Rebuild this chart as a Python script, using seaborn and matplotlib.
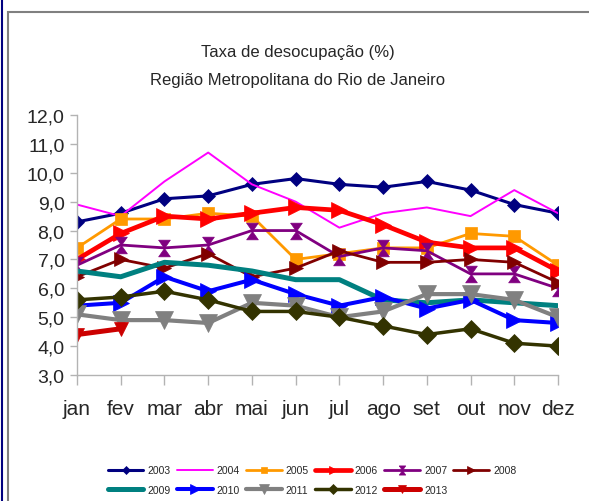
import matplotlib
matplotlib.use("Agg")
import matplotlib.pyplot as plt
from matplotlib.patches import Rectangle
from matplotlib.lines import Line2D
import seaborn as sns

# dados (taxa de desocupacao, %)
months = ["jan", "fev", "mar", "abr", "mai", "jun", "jul", "ago", "set", "out", "nov", "dez"]
years = ["2003", "2004", "2005", "2006", "2007", "2008", "2009", "2010", "2011", "2012", "2013"]

y2003 = [8.3, 8.6, 9.1, 9.2, 9.6, 9.8, 9.6, 9.5, 9.7, 9.4, 8.9, 8.6]
y2004 = [8.9, 8.5, 9.7, 10.7, 9.6, 9.0, 8.1, 8.6, 8.8, 8.5, 9.4, 8.6]
y2005 = [7.4, 8.4, 8.4, 8.6, 8.5, 7.0, 7.2, 7.4, 7.4, 7.9, 7.8, 6.8]
y2006 = [7.0, 7.9, 8.5, 8.4, 8.6, 8.8, 8.7, 8.2, 7.6, 7.4, 7.4, 6.6]
y2007 = [6.8, 7.5, 7.4, 7.5, 8.0, 8.0, 7.1, 7.4, 7.3, 6.5, 6.5, 6.0]
y2008 = [6.4, 7.0, 6.7, 7.2, 6.4, 6.7, 7.3, 6.9, 6.9, 7.0, 6.9, 6.2]
y2009 = [6.6, 6.4, 6.9, 6.8, 6.6, 6.3, 6.3, 5.6, 5.5, 5.6, 5.5, 5.4]
y2010 = [5.4, 5.5, 6.4, 5.9, 6.3, 5.8, 5.4, 5.7, 5.3, 5.6, 4.9, 4.8]
y2011 = [5.1, 4.9, 4.9, 4.8, 5.5, 5.4, 5.0, 5.2, 5.8, 5.8, 5.6, 5.0]
y2012 = [5.6, 5.7, 5.9, 5.6, 5.2, 5.2, 5.0, 4.7, 4.4, 4.6, 4.1, 4.0]
y2013 = [4.4, 4.6]

yticks = [3, 4, 5, 6, 7, 8, 9, 10, 11, 12]
ytick_labels = ["3,0", "4,0", "5,0", "6,0", "7,0", "8,0", "9,0", "10,0", "11,0", "12,0"]

series = [y2003, y2004, y2005, y2006, y2007, y2008, y2009, y2010, y2011, y2012, y2013]

# estilos
hourglass = [(-0.7, 1), (0.7, 1), (-0.7, -1), (0.7, -1), (-0.7, 1)]
colors = ["#000080", "#ff00ff", "#ff9900", "#ff0000", "#800080", "#800000",
          "#008080", "#0000ff", "#808080", "#333300", "#cc0000"]
markers = ["D", None, "s", ">", hourglass, ">", None, ">", "v", "D", "v"]
msizes = [7, 0, 8, 11, 12, 10, 0, 12, 13, 9.5, 9.5]
lwidths = [2.2, 1.4, 2.0, 3.4, 2.0, 2.0, 3.6, 2.9, 3.0, 2.5, 3.6]

sns.set_style("white")
plt.rcParams["font.family"] = ["Liberation Sans Narrow", "Liberation Sans", "DejaVu Sans"]

fig = plt.figure(figsize=(5.89, 5.02), dpi=100)
ax = fig.add_axes([77 / 589, 1 - 376 / 502, (558 - 77) / 589, (376 - 116) / 502])

for yr, vals, c, m, ms, lw in zip(years, series, colors, markers, msizes, lwidths):
    kw = {}
    if m is not None:
        kw = dict(marker=m, markersize=ms, mec=c, mfc=c, mew=0.5)
    sns.lineplot(x=months[:len(vals)], y=vals, color=c, linewidth=lw, label=yr,
                 estimator=None, sort=False, legend=False, ax=ax, **kw)

ax.set_xlim(0, 11)
ax.set_ylim(3, 12)
ax.set_yticks(yticks, ytick_labels)
ax.set_xlabel("")
ax.set_ylabel("")
for s in ["top", "right"]:
    ax.spines[s].set_visible(False)
for s in ["left", "bottom"]:
    ax.spines[s].set_color("#b3b3b3")
    ax.spines[s].set_linewidth(1.0)
ax.tick_params(axis="y", direction="out", length=5, width=1, color="#b3b3b3",
               labelsize=14, pad=4, left=True)
ax.tick_params(axis="x", direction="out", length=7, width=1, color="#b3b3b3",
               labelsize=15, pad=10, bottom=True)

fig.text(0.505, 1 - 53 / 502, "Taxa de desocupação (%)", ha="center", va="center", fontsize=12)
fig.text(0.505, 1 - 81 / 502, "Região Metropolitana do Rio de Janeiro", ha="center", va="center",
         fontsize=12)

handles, labels = ax.get_legend_handles_labels()
order = [0, 6, 1, 7, 2, 8, 3, 9, 4, 10, 5]
fig.legend([handles[i] for i in order], [labels[i] for i in order],
           loc="center", bbox_to_anchor=(0.53, 1 - 481 / 502), ncol=6, frameon=False,
           fontsize=7.5, handlelength=3.4, handletextpad=0.4, columnspacing=0.6,
           labelspacing=0.9, markerscale=0.55)

# moldura
fig.patches.append(Rectangle((7.5 / 589, -0.05), 1.0, 0.975 + 0.05, transform=fig.transFigure,
                             fill=False, edgecolor="#808080", linewidth=1.5))
fig.lines.append(Line2D([1.5 / 589, 1.5 / 589], [0, 1], transform=fig.transFigure,
                        color="#000080", linewidth=1.5))

fig.savefig("out.png", dpi=100)
